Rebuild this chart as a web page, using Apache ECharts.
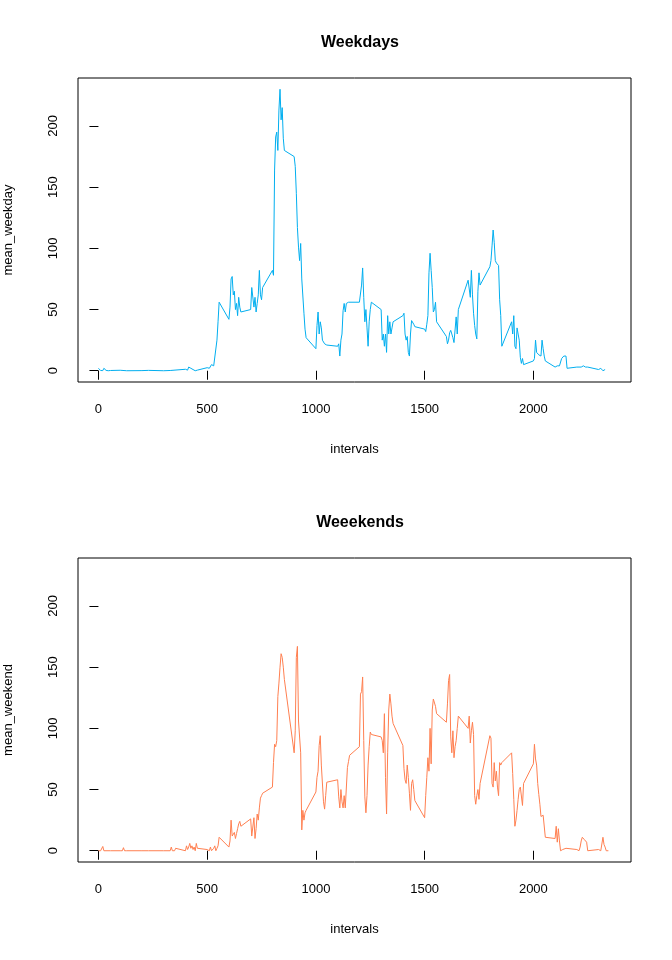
<!DOCTYPE html>
<html><head><meta charset="utf-8">
<script src="https://cdn.jsdelivr.net/npm/echarts@6/dist/echarts.min.js"></script>
<style>html,body{margin:0;padding:0;background:#fff}#c{width:672px;height:960px}</style>
</head><body><div id="c"></div>
<script>
const xTicks = [0, 500, 1000, 1500, 2000];
const yTicks = [0, 50, 100, 150, 200];
const weekdayX = [0,5,10,15,20,25,30,35,40,45,50,55,100,130,200,230,300,330,400,405,410,415,420,425,430,435,440,445,450,455,500,505,510,520,530,545,550,555,600,605,610,615,620,625,630,635,640,645,650,655,700,705,715,720,725,730,735,740,745,750,755,800,805,810,815,820,825,830,835,840,845,850,855,900,905,910,915,920,925,930,935,940,945,950,955,1000,1005,1010,1015,1020,1025,1030,1040,1050,1100,1105,1110,1115,1120,1125,1130,1135,1140,1150,1200,1205,1210,1215,1220,1225,1230,1235,1240,1245,1250,1255,1300,1305,1310,1315,1320,1325,1330,1335,1340,1345,1350,1355,1400,1405,1410,1415,1420,1425,1430,1435,1440,1445,1450,1455,1500,1505,1510,1515,1520,1525,1530,1535,1540,1545,1550,1555,1600,1605,1610,1615,1620,1625,1630,1635,1640,1645,1650,1655,1700,1705,1710,1715,1720,1725,1730,1735,1740,1745,1750,1755,1800,1805,1810,1815,1820,1825,1830,1835,1840,1845,1850,1855,1900,1905,1910,1915,1920,1925,1930,1935,1940,1945,1950,1955,2000,2005,2010,2015,2020,2025,2030,2035,2040,2045,2050,2055,2100,2105,2110,2115,2120,2130,2140,2150,2155,2200,2205,2210,2215,2220,2230,2240,2250,2255,2300,2305,2310,2320,2330,2335,2340,2345,2350,2355];
const weekdayY = [2,0.4,0.2,0.2,0.1,2,0.6,0.3,1,0,0.4,0.2,0.4,0,0.1,0.3,0,0.2,1.2,2.5,0.5,3,1.5,2,0.5,1,0.8,0,1.5,0.5,2.5,4,2,5,4,25,40,56,42,52,75,77,62,65,50,55,45,60,52,48,50,68,52,60,48,55,62,82,62,58,68,82,78,164,191,195,180,213,230,205,215,190,180,175,167,145,117,101,90,104,75,74,47,34,27,18,37,48,30,40,35,25,22,21,20,22,12,25,30,49,55,48,55,56,56,56,70,84,60,40,50,35,20,40,50,56,50,25,30,20,30,15,45,30,40,30,35,40,45,47,30,25,28,15,12,30,41,40,38,36,34,32,38,45,80,96,82,68,48,50,56,40,28,22,25,31,33,30,27,23,22,44,30,50,74,75,60,82,62,47,37,30,26,65,80,70,85,90,102,115,105,90,88,87,86,58,45,20,40,30,45,20,18,35,30,25,11,6,10,5,8,10,25,15,14,13,12,12,25,18,12,8,3,4,4,3,4,10,12,12,2,3,3,3,2,3,4,3,3,3,1,1,2,0,1];
const weekendX = [0,5,10,15,20,25,30,55,100,110,115,120,130,200,230,300,330,335,340,345,350,355,400,405,410,415,420,425,430,435,440,445,450,455,500,505,510,515,520,525,530,535,540,545,550,555,600,605,610,615,620,625,630,635,640,645,650,655,700,705,710,715,720,725,730,735,740,745,750,755,800,805,810,815,820,825,830,835,840,845,850,855,900,905,910,915,920,925,930,935,940,945,950,955,1000,1005,1010,1015,1020,1025,1030,1035,1040,1045,1050,1055,1100,1105,1110,1115,1120,1125,1130,1135,1140,1145,1150,1155,1200,1205,1210,1215,1220,1225,1230,1235,1240,1245,1250,1255,1300,1305,1310,1315,1320,1325,1330,1335,1340,1345,1350,1355,1400,1405,1410,1415,1420,1425,1430,1435,1440,1445,1450,1455,1500,1505,1510,1515,1520,1525,1530,1535,1540,1545,1550,1555,1600,1605,1610,1615,1620,1625,1630,1635,1640,1645,1650,1655,1700,1705,1710,1715,1720,1725,1730,1735,1740,1745,1750,1755,1800,1805,1810,1815,1820,1825,1830,1835,1840,1845,1850,1855,1900,1905,1910,1915,1920,1925,1930,1935,1940,1945,1950,1955,2000,2005,2010,2015,2020,2025,2030,2035,2040,2045,2050,2055,2100,2105,2110,2115,2120,2125,2130,2135,2140,2150,2155,2200,2205,2210,2215,2220,2225,2230,2235,2240,2245,2250,2255,2300,2305,2310,2315,2320,2325,2330,2335,2340,2345,2350,2355];
const weekendY = [0,0,0,0,3.5,0,0,0,0,0,2.5,0,0,0,0,0,0,3,0,1,0,2,0,4,1,3,6,2,4,1,3,0,6,2,1,1,0,3,0,1,2,4,0,2,4,11,3,8,25,12,12,15,10,14,18,22,24,20,26,12,12,27,10,18,30,25,35,43,45,47,52,72,87,85,90,126,137,150,161,158,150,140,80,98,158,167,106,105,80,17,33,25,31,33,48,60,65,86,94,70,71,40,34,45,56,57,58,44,35,50,40,35,45,35,35,68,73,78,85,128,130,142,90,44,31,45,70,85,97,95,93,90,80,112,60,30,80,115,128,120,110,104,86,67,58,55,70,60,47,33,55,58,50,41,27,45,60,76,65,100,71,115,124,123,118,112,105,120,139,144,93,80,98,76,85,90,100,110,100,110,88,98,105,95,45,38,45,50,42,55,94,92,55,52,72,57,65,52,45,72,70,72,80,63,42,20,25,33,42,50,52,52,37,55,71,87,75,70,55,46,38,28,28,29,28,11,10,20,7,18,8,0,1,1,1,2,3,1,2,0,3,8,11,10,9,8,7,0,0,1,0,0,0,11,5,3,0,0,0];
const titles = ['Weekdays', 'Weeekends'];
const yNames = ['mean_weekday', 'mean_weekend'];

const font = 'Liberation Sans, Arial, sans-serif';
const chart = echarts.init(document.getElementById('c'));
const tops = [78, 558];
function pairs(xs, ys){ return xs.map((x,i)=>[x, ys[i]]); }
const grids = tops.map(t => ({left:78, top:t, width:553, height:304, containLabel:false, outerBoundsMode:'none', show:true, borderColor:'#000', borderWidth:1, backgroundColor:'transparent'}));
const xAxes = [0,1].map(i => ({
  type:'value', gridIndex:i, min:-94, max:2449,
  name:'intervals', nameLocation:'middle', nameGap:61,
  nameTextStyle:{fontFamily:font, fontSize:13, color:'#000'},
  axisLine:{show:false}, splitLine:{show:false},
  axisTick:{show:true, inside:false, length:9, customValues:xTicks, lineStyle:{color:'#000'}},
  axisLabel:{customValues:xTicks, margin:21, formatter:v=>String(v), fontFamily:font, fontSize:13, color:'#000'}
}));
const yAxes = [0,1].map(i => ({
  type:'value', gridIndex:i, min:-9.2, max:239.2,
  name:yNames[i], nameLocation:'middle', nameGap:63, nameRotate:90,
  nameTextStyle:{fontFamily:font, fontSize:13, color:'#000'},
  axisLine:{show:false}, splitLine:{show:false},
  axisTick:{show:true, inside:false, length:9, customValues:yTicks, lineStyle:{color:'#000'}},
  axisLabel:{customValues:yTicks, rotate:90, margin:18, formatter:v=>String(v), fontFamily:font, fontSize:13, color:'#000'}
}));
chart.setOption({
  animation:false,
  title: titles.map((t,i)=>({text:t, left:355, textAlign:'center', top:tops[i]-48, textStyle:{fontFamily:font, fontSize:16, fontWeight:'bold', color:'#000'}})),
  grid: grids, xAxis: xAxes, yAxis: yAxes,
  series: [
    {type:'line', xAxisIndex:0, yAxisIndex:0, data:pairs(weekdayX, weekdayY), showSymbol:false, lineStyle:{color:'#00AEEF', width:1}},
    {type:'line', xAxisIndex:1, yAxisIndex:1, data:pairs(weekendX, weekendY), showSymbol:false, lineStyle:{color:'#FF7F50', width:1}}
  ]
});
</script></body></html>
